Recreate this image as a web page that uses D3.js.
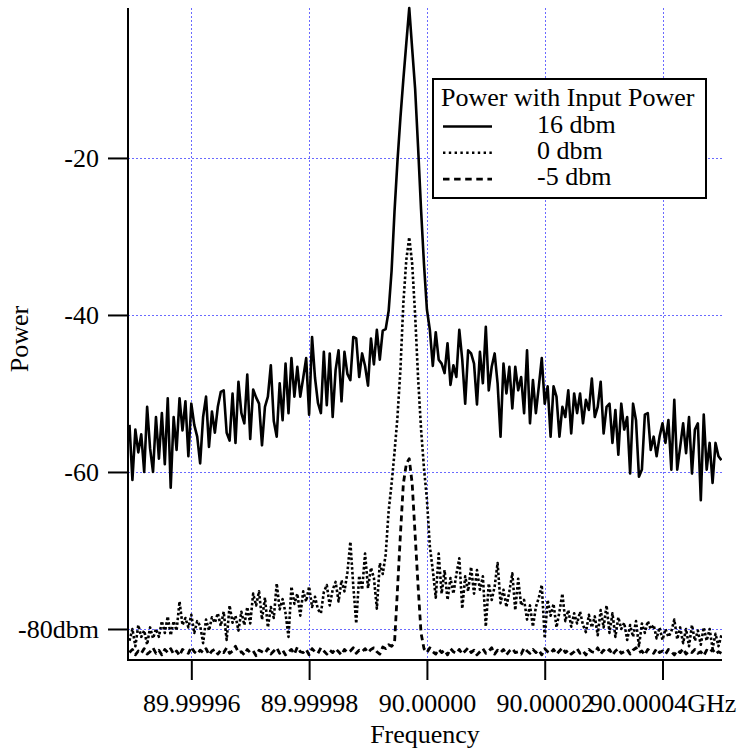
<!DOCTYPE html>
<html>
<head>
<meta charset="utf-8">
<script src="https://cdn.jsdelivr.net/npm/d3@7"></script>
<style>
  html, body { margin: 0; padding: 0; background: #fff; }
  svg { display: block; }
  svg text { font-family: "Liberation Serif", "Times New Roman", serif; }
</style>
</head>
<body>
<div id="chart"></div>
<script>
// Swept trace: offset from 90 GHz in kHz, first sample + fixed step (like a wave's x scaling)
const FREQ_START_KHZ = -50.5;
const FREQ_STEP_KHZ = 0.5;

const X_TICKS_KHZ = [-40, -20, 0, 20, 40];
const X_TICK_LABELS = ["89.99996", "89.99998", "90.00000", "90.00002", "90.00004GHz"];
const Y_TICKS = [-20, -40, -60, -80];
const Y_TICK_LABELS = ["-20", "-40", "-60", "-80dbm"];

const LEGEND_TITLE = "Power with Input Power";
const SERIES_NAMES = ["16 dbm", "0 dbm", "-5 dbm"];

// power (dbm), one value per sweep step
const power16 = [
  -54.0, -61.0, -54.6, -57.5, -55.2, -60.0, -51.7, -57.0, -60.0, -53.0,
  -58.3, -52.5, -59.0, -50.6, -62.0, -53.0, -57.2, -50.6, -54.7, -51.0,
  -58.0, -51.3, -54.0, -55.5, -58.9, -53.0, -50.4, -56.8, -52.3, -55.0,
  -51.7, -49.8, -49.6, -55.0, -56.0, -50.0, -56.3, -48.5, -52.5, -53.8,
  -47.6, -55.8, -49.5, -50.5, -51.3, -56.6, -51.7, -50.4, -46.4, -53.5,
  -55.5, -48.7, -53.4, -46.2, -52.5, -45.5, -50.4, -46.6, -50.4, -48.0,
  -45.5, -52.7, -42.8, -48.0, -51.2, -52.5, -44.7, -51.5, -44.9, -53.0,
  -47.0, -44.5, -51.0, -44.7, -47.5, -48.3, -42.8, -43.0, -47.9, -44.9,
  -46.5, -49.0, -43.0, -46.3, -41.9, -45.7, -42.0, -41.8, -39.5, -34.4,
  -26.8, -20.4, -14.9, -10.0, -5.4, -0.9, -6.1, -11.2, -18.6, -26.5,
  -33.5, -39.3, -41.9, -46.5, -42.2, -45.7, -46.2, -47.4, -43.6, -48.9,
  -46.4, -47.9, -41.9, -45.7, -51.3, -44.5, -44.9, -46.2, -51.4, -44.7,
  -48.7, -41.5, -49.6, -46.6, -44.9, -48.7, -55.5, -46.2, -50.0, -46.6,
  -51.9, -46.6, -49.6, -47.9, -52.5, -44.5, -53.8, -48.3, -52.5, -49.1,
  -45.5, -51.3, -49.1, -55.5, -49.1, -50.4, -55.5, -51.7, -53.0, -49.6,
  -55.1, -50.0, -52.5, -50.0, -53.8, -50.8, -52.1, -48.1, -53.0, -51.7,
  -48.5, -55.1, -51.7, -51.3, -56.3, -52.1, -57.8, -51.3, -54.6, -53.0,
  -60.2, -51.3, -53.4, -60.6, -59.7, -52.7, -52.5, -57.2, -55.5, -58.0,
  -55.5, -53.8, -56.3, -53.4, -59.7, -50.8, -59.7, -56.8, -53.8, -57.6,
  -53.0, -60.2, -54.6, -53.8, -63.6, -52.7, -59.7, -56.3, -61.4, -56.3,
  -58.0, -58.5
];

const power0 = [
  -81.5, -80.0, -82.2, -79.5, -81.0, -80.2, -82.0, -79.8, -81.2, -80.0,
  -81.0, -79.0, -80.5, -78.4, -80.8, -79.0, -80.2, -76.5, -79.5, -78.6,
  -79.8, -78.2, -80.5, -79.0, -79.6, -81.8, -78.8, -80.2, -78.5, -79.2,
  -78.0, -79.6, -77.8, -81.4, -77.0, -79.2, -78.3, -80.2, -77.8, -79.5,
  -77.2, -79.3, -75.5, -77.0, -75.2, -78.8, -76.0, -79.8, -77.2, -78.6,
  -74.2, -77.5, -76.2, -78.0, -81.0, -74.6, -76.8, -75.5, -78.3, -75.2,
  -76.5, -74.6, -77.2, -75.9, -77.5, -78.0, -75.3, -74.4, -77.0, -75.0,
  -74.0, -76.5, -73.8, -75.2, -72.8, -68.9, -74.5, -79.3, -73.2, -75.0,
  -70.4, -74.8, -72.2, -73.5, -77.4, -71.6, -73.0, -70.5, -65.0, -61.5,
  -57.5, -53.0, -47.0, -38.5, -33.0, -30.1, -33.5, -40.0, -48.0, -54.5,
  -59.5, -63.5, -69.5, -72.5, -76.0, -70.4, -75.5, -72.5, -76.3, -73.5,
  -75.5, -73.0, -71.0, -77.4, -73.3, -75.2, -72.1, -75.5, -72.5, -75.0,
  -73.3, -79.7, -74.2, -76.3, -74.6, -71.6, -76.7, -75.0, -77.2, -75.2,
  -72.9, -77.6, -73.6, -77.0, -76.3, -78.8, -77.0, -79.7, -77.2, -76.0,
  -74.4, -81.2, -76.3, -78.3, -76.8, -79.8, -77.8, -75.5, -79.0, -77.6,
  -79.7, -78.0, -79.3, -77.8, -79.5, -80.4, -78.2, -79.8, -78.4, -80.8,
  -77.6, -79.8, -77.0, -80.5, -78.0, -81.0, -78.5, -80.0, -79.2, -81.4,
  -79.5, -81.0, -79.0, -82.2, -79.3, -80.5, -79.0, -80.0, -79.5, -81.2,
  -79.8, -81.4, -80.0, -81.0, -80.3, -78.8, -81.3, -79.8, -81.8, -80.0,
  -82.2, -79.5, -81.5, -80.2, -82.0, -79.8, -81.5, -80.0, -82.5, -80.6,
  -82.2, -80.8
];

const powerMinus5 = [
  -83.0, -82.6, -83.3, -82.8, -83.1, -82.5, -83.2, -82.9, -82.4, -83.1,
  -82.7, -83.3, -82.6, -83.0, -82.5, -83.2, -82.8, -83.4, -82.6, -82.9,
  -83.1, -82.3, -82.9, -83.2, -82.7, -83.0, -82.5, -83.3, -82.8, -82.6,
  -83.2, -82.7, -83.0, -82.4, -83.1, -82.8, -82.2, -83.0, -82.9, -83.3,
  -82.6, -83.0, -82.8, -83.4, -82.7, -82.9, -83.1, -82.5, -83.2, -82.8,
  -82.4, -83.1, -82.7, -83.3, -82.9, -82.6, -83.2, -82.3, -82.9, -83.0,
  -82.6, -83.3, -82.5, -82.9, -83.1, -82.4, -82.8, -83.2, -82.7, -83.0,
  -82.5, -82.9, -83.3, -82.6, -83.0, -82.8, -82.4, -83.1, -82.7, -82.9,
  -82.5, -83.0, -82.6, -82.4, -82.9, -83.2, -82.3, -82.5, -82.0, -82.2,
  -81.8, -75.0, -68.0, -61.5, -59.0, -58.3, -61.5, -68.0, -74.5, -80.5,
  -82.5, -83.0, -82.4, -82.9, -83.2, -82.6, -83.0, -82.7, -83.3, -82.5,
  -82.9, -83.1, -82.6, -83.2, -82.8, -82.4, -83.0, -82.7, -83.3, -82.9,
  -82.5, -83.1, -82.8, -82.4, -83.2, -82.7, -83.0, -82.6, -83.3, -82.8,
  -82.5, -83.0, -82.9, -83.2, -82.4, -82.8, -83.1, -82.6, -83.0, -82.7,
  -83.3, -82.5, -82.9, -83.1, -82.6, -83.2, -82.8, -82.4, -83.0, -82.7,
  -83.2, -82.9, -82.5, -83.1, -82.8, -83.3, -82.6, -82.9, -83.0, -82.4,
  -83.2, -82.7, -83.0, -82.6, -83.3, -82.8, -82.5, -83.1, -82.9, -82.6,
  -83.2, -82.7, -82.4, -83.0, -82.8, -83.3, -82.6, -82.9, -83.1, -82.5,
  -83.0, -82.8, -83.2, -82.6, -82.9, -83.3, -82.7, -83.0, -82.5, -83.2,
  -82.8, -83.0, -82.6, -83.1, -82.9, -83.4, -82.7, -83.0, -82.6, -83.2,
  -82.9, -83.1
];

const W = 741, H = 752;
const plot = { left: 128, right: 722, top: 8, bottom: 660 };
const FONT = 26;
const SERIF = '"Liberation Serif", "Times New Roman", serif';

const svg = d3.select("#chart").append("svg")
  .attr("width", W).attr("height", H)
  .attr("viewBox", `0 0 ${W} ${H}`);

const x = d3.scaleLinear().domain([-50.75, 50.1]).range([plot.left, plot.right]);
const y = d3.scaleLinear().domain([-83.95, -0.9]).range([plot.bottom, plot.top]);

// dotted blue grid at the major ticks
const grid = svg.append("g").attr("stroke", "#6a6aff").attr("stroke-width", 1)
  .attr("stroke-dasharray", "2,2");
grid.selectAll("line.gx").data(X_TICKS_KHZ).join("line").attr("class", "gx")
  .attr("x1", d => Math.round(x(d)) + 0.5).attr("x2", d => Math.round(x(d)) + 0.5)
  .attr("y1", plot.top).attr("y2", plot.bottom);
grid.selectAll("line.gy").data(Y_TICKS).join("line").attr("class", "gy")
  .attr("y1", d => Math.round(y(d)) + 0.5).attr("y2", d => Math.round(y(d)) + 0.5)
  .attr("x1", plot.left).attr("x2", plot.right);

// traces
svg.append("clipPath").attr("id", "plotclip").append("rect")
  .attr("x", plot.left).attr("y", plot.top - 2)
  .attr("width", plot.right - plot.left).attr("height", plot.bottom - plot.top + 2);

const traces = [
  { name: SERIES_NAMES[0], values: power16, width: 2.6, dash: null, legendDash: null },
  { name: SERIES_NAMES[1], values: power0, width: 2.6, dash: "2.6,2.2", legendDash: "2.4,3.4" },
  { name: SERIES_NAMES[2], values: powerMinus5, width: 2.8, dash: "6,4", legendDash: "6.5,4.6" },
];

const line = d3.line()
  .x((d, i) => x(FREQ_START_KHZ + i * FREQ_STEP_KHZ))
  .y(d => y(d));

const tg = svg.append("g").attr("clip-path", "url(#plotclip)");
tg.selectAll("path").data(traces.slice().reverse()).join("path")
  .attr("d", d => line(d.values))
  .attr("fill", "none").attr("stroke", "#000")
  .attr("stroke-width", d => d.width)
  .attr("stroke-linejoin", "round")
  .attr("stroke-dasharray", d => d.dash);

// axes (Igor style: thick frame on left and bottom, long outside ticks)
const yAxis = svg.append("g").attr("transform", `translate(${plot.left},0)`)
  .call(d3.axisLeft(y).tickValues(Y_TICKS).tickSize(20).tickPadding(9)
    .tickFormat((d, i) => Y_TICK_LABELS[i]));
yAxis.select(".domain").remove();
yAxis.selectAll("line").attr("stroke", "#000").attr("stroke-width", 2);
yAxis.selectAll("text").attr("fill", "#000").attr("dy", "0.33em")
  .style("font-family", SERIF).style("font-size", FONT + "px");

const xAxis = svg.append("g").attr("transform", `translate(0,${plot.bottom})`)
  .call(d3.axisBottom(x).tickValues(X_TICKS_KHZ).tickSize(20).tickPadding(14)
    .tickFormat((d, i) => X_TICK_LABELS[i]));
xAxis.select(".domain").remove();
xAxis.selectAll("line").attr("stroke", "#000").attr("stroke-width", 2);
xAxis.selectAll("text").attr("fill", "#000")
  .style("font-family", SERIF).style("font-size", FONT + "px");

svg.append("path")
  .attr("d", `M${plot.left},${plot.top}V${plot.bottom}H${plot.right}`)
  .attr("fill", "none").attr("stroke", "#000").attr("stroke-width", 2);

svg.append("text").attr("x", (plot.left + plot.right) / 2).attr("y", 743)
  .attr("text-anchor", "middle").attr("font-size", FONT).text("Frequency");
svg.append("text").attr("transform", "translate(28,339) rotate(-90)")
  .attr("text-anchor", "middle").attr("font-size", FONT).text("Power");

// legend
const lg = svg.append("g").attr("transform", "translate(433,79)");
lg.append("rect").attr("width", 273).attr("height", 119)
  .attr("fill", "#fff").attr("stroke", "#000").attr("stroke-width", 2);
lg.append("text").attr("x", 8).attr("y", 27).attr("font-size", FONT).text(LEGEND_TITLE);
const rows = lg.selectAll("g.row").data(traces).join("g").attr("class", "row")
  .attr("transform", (d, i) => `translate(0,${53.5 + i * 26.3})`);
rows.append("line").attr("x1", 10).attr("x2", 59).attr("y1", -6).attr("y2", -6)
  .attr("stroke", "#000").attr("stroke-width", d => d.width)
  .attr("stroke-dasharray", d => d.legendDash);
rows.append("text").attr("x", 104).attr("font-size", FONT).text(d => d.name);
</script>
</body>
</html>
